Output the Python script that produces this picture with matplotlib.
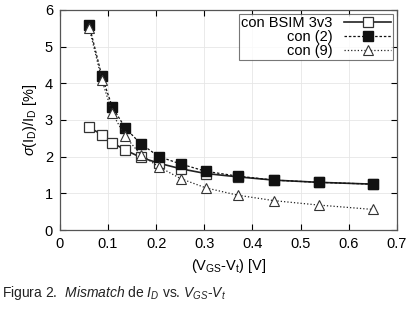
import matplotlib
matplotlib.use('Agg')
import matplotlib.pyplot as plt

plt.rcParams['font.family'] = ['Liberation Sans', 'DejaVu Sans']
plt.rcParams['mathtext.fontset'] = 'custom'
plt.rcParams['mathtext.rm'] = 'Liberation Sans'
plt.rcParams['mathtext.it'] = 'Liberation Sans:italic'

# data
vgs = [0.061, 0.087, 0.109, 0.136, 0.168, 0.206, 0.251, 0.303, 0.369, 0.445, 0.538, 0.651]
bsim = [2.80, 2.60, 2.38, 2.18, 1.98, 1.82, 1.67, 1.54, 1.45, 1.36, 1.30, 1.25]
con2 = [5.58, 4.20, 3.35, 2.78, 2.35, 2.00, 1.80, 1.60, 1.47, 1.36, 1.30, 1.25]
con9 = [5.50, 4.10, 3.18, 2.55, 2.05, 1.72, 1.40, 1.15, 0.95, 0.80, 0.68, 0.56]

fig = plt.figure(figsize=(4.13, 3.10), dpi=100)
ax = fig.add_axes([0.145, 0.258, 0.816, 0.71])

ax.plot(vgs, bsim, '-', color='#222222', lw=1.2, marker='s', ms=6.5,
        mfc='white', mec='#333333', mew=0.9, label='con BSIM 3v3')
ax.plot(vgs, con2, '--', color='#111111', lw=0.9, dashes=(2, 1.5), marker='s', ms=6.5,
        mfc='#111111', mec='#111111', label='con (2)')
ax.plot(vgs, con9, ':', color='#222222', lw=0.9, marker='^', ms=6.5,
        mfc='white', mec='#333333', mew=0.8, label='con (9)')

ax.set_xlim(0, 0.7)
ax.set_ylim(0, 6)
ax.set_xticks([0, 0.1, 0.2, 0.3, 0.4, 0.5, 0.6, 0.7])
ax.set_xticklabels(['0', '0.1', '0.2', '0.3', '0.4', '0.5', '0.6', '0.7'])
ax.set_yticks(range(7))
ax.grid(True, color='#e6e6e6', lw=0.6)
ax.tick_params(direction='in', top=True, right=True, labelsize=10.5, length=4, pad=5)
for s in ax.spines.values():
    s.set_color('#555555')
    s.set_linewidth(0.9)

ax.set_xlabel(r'(V$_{\rm GS}$-V$_{\rm t}$) [V]', fontsize=10.5, labelpad=4)
ax.set_ylabel(r'$\sigma$(I$_{\rm D}$)/I$_{\rm D}$ [%]', fontsize=10.5, labelpad=4)

leg = ax.legend(loc='upper right', markerfirst=False, fontsize=10.5, frameon=True,
                fancybox=False, borderpad=0.15, labelspacing=0.0, handlelength=3.2,
                handletextpad=0.8, borderaxespad=0.25)
leg.get_frame().set_edgecolor('#555555')
leg.get_frame().set_linewidth(0.8)

fig.text(0.005, 0.055, r'Figura 2.  $\mathit{Mismatch}$ de $\mathit{I_D}$ vs. $\mathit{V_{GS}}$-$\mathit{V_t}$',
         fontsize=10, color='#222222', va='center')

fig.savefig('out.png', dpi=100)
